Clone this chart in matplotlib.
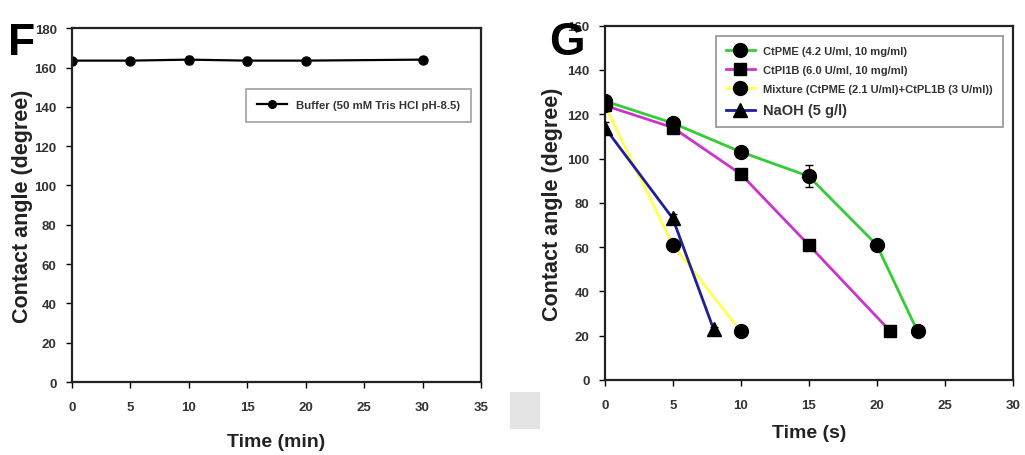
import matplotlib
matplotlib.use("Agg")
import matplotlib.pyplot as plt
from matplotlib.lines import Line2D
from matplotlib.patches import Rectangle

plt.rcParams['font.family'] = ['Liberation Sans', 'DejaVu Sans']
plt.rcParams['font.weight'] = 'bold'

# Panel F: buffer control
buffer_time = [0, 5, 10, 15, 20, 30]
buffer_angle = [163.5, 163.5, 164, 163.5, 163.5, 164]
buffer_err = [1.5, 1.2, 2.0, 2.0, 1.2, 1.2]

# Panel G: enzymatic / alkaline treatments
pme_time = [0, 5, 10, 15, 20, 23]
pme_angle = [126, 116, 103, 92, 61, 22]
pme_err = [2, 1.5, 1.5, 5, 1.5, 1]

pl_time = [0, 5, 10, 15, 21]
pl_angle = [124, 114, 93, 61, 22]
pl_err = [2, 1.5, 1.5, 1, 1]

mix_time = [0, 5, 10]
mix_angle = [124, 61, 22]
mix_err = [2, 2, 1]

naoh_time = [0, 5, 8]
naoh_angle = [114, 73, 23]
naoh_err = [2.5, 2, 1]

fig = plt.figure(figsize=(10.25, 4.56), dpi=100)
fig.patch.set_facecolor('white')

axF = fig.add_axes([0.0702, 0.160, 0.399, 0.776])
axG = fig.add_axes([0.590, 0.1645, 0.398, 0.777])


def style_axes(ax):
    for side in ['top', 'right', 'left', 'bottom']:
        ax.spines[side].set_linewidth(1.6)
        ax.spines[side].set_color('#222222')
    ax.tick_params(axis='both', which='both', direction='out', length=4,
                   width=1.0, labelsize=9.5, top=False, right=False)
    ax.tick_params(axis='x', pad=10)
    ax.tick_params(axis='y', pad=7)
    for lab in ax.get_xticklabels() + ax.get_yticklabels():
        lab.set_fontweight('bold')
        lab.set_color('#333333')


# Panel F
axF.errorbar(buffer_time, buffer_angle, yerr=buffer_err, color='black', lw=1.6,
             marker='o', ms=6.5, mfc='black', mec='black', capsize=2.5,
             elinewidth=1.0)
axF.set_xlim(0, 35)
axF.set_ylim(0, 180)
axF.set_xticks(range(0, 36, 5))
axF.set_yticks(range(0, 181, 20))
axF.set_xlabel('Time (min)', fontsize=14, fontweight='bold', labelpad=14, color='#222222')
axF.set_ylabel('Contact angle (degree)', fontsize=15.5, fontweight='bold', labelpad=1, color='#222222')
style_axes(axF)
buffer_handle = Line2D([], [], color='black', lw=1.6, marker='o', ms=5.5,
                       mfc='black', mec='black')
legF = axF.legend([buffer_handle], ['Buffer (50 mM Tris HCl pH-8.5)'],
                  loc='upper right', bbox_to_anchor=(0.99, 0.845),
                  frameon=True, fancybox=False, handlelength=2.6, borderpad=1.0,
                  prop={'weight': 'bold', 'size': 8.2})
legF.get_frame().set_edgecolor('#888888')
legF.get_frame().set_linewidth(1.2)
for t in legF.get_texts():
    t.set_color('#333333')
fig.text(0.008, 0.905, 'F', fontsize=32, fontweight='bold', va='center')

# Panel G
series = [
    (pme_time, pme_angle, pme_err, '#33cc33', 'o', 'CtPME (4.2 U/ml, 10 mg/ml)'),
    (pl_time, pl_angle, pl_err, '#cc33cc', 's', 'CtPl1B (6.0 U/ml, 10 mg/ml)'),
    (mix_time, mix_angle, mix_err, '#ffff55', 'o', 'Mixture (CtPME (2.1 U/ml)+CtPL1B (3 U/ml))'),
    (naoh_time, naoh_angle, naoh_err, '#1f1f99', '^', 'NaOH (5 g/l)'),
]
for xs, ys, es, col, mk, lab in series:
    axG.plot(xs, ys, color=col, lw=2.0, zorder=2)
    axG.errorbar(xs, ys, yerr=es, fmt='none', ecolor='black', elinewidth=1.0,
                 capsize=3, zorder=3)
    axG.plot(xs, ys, linestyle='none', marker=mk, ms=10 if mk != 's' else 9,
             mfc='black', mec='black', zorder=4)
handles = []
for xs, ys, es, col, mk, lab in series:
    h, = axG.plot([], [], color=col, lw=2.0, marker=mk, ms=10 if mk != 's' else 9,
                  mfc='black', mec='black', label=lab)
    handles.append(h)
axG.set_xlim(0, 30)
axG.set_ylim(0, 160)
axG.set_xticks(range(0, 31, 5))
axG.set_yticks(range(0, 161, 20))
axG.set_xlabel('Time (s)', fontsize=14, fontweight='bold', labelpad=9, color='#222222')
axG.set_ylabel('Contact angle (degree)', fontsize=15.5, fontweight='bold', labelpad=3, color='#222222')
style_axes(axG)
legG = axG.legend(handles=handles, loc='upper right', bbox_to_anchor=(0.99, 0.986),
                  frameon=True, fancybox=False, handlelength=2.6, borderpad=0.9,
                  labelspacing=0.8, prop={'size': 8.0})
legG.get_frame().set_edgecolor('#777777')
legG.get_frame().set_linewidth(1.2)
for i, t in enumerate(legG.get_texts()):
    t.set_color('#333333')
    if i == 3:
        t.set_fontsize(10.5)
        t.set_fontweight('bold')
fig.text(0.536, 0.905, 'G', fontsize=33, fontweight='bold', va='center')

# faint gray patch between the panels
fig.patches.append(Rectangle((0.498, 0.057), 0.029, 0.081, transform=fig.transFigure,
                             facecolor='#e4e4e4', edgecolor='none', zorder=0))

fig.savefig('out.png', dpi=100, facecolor='white')
